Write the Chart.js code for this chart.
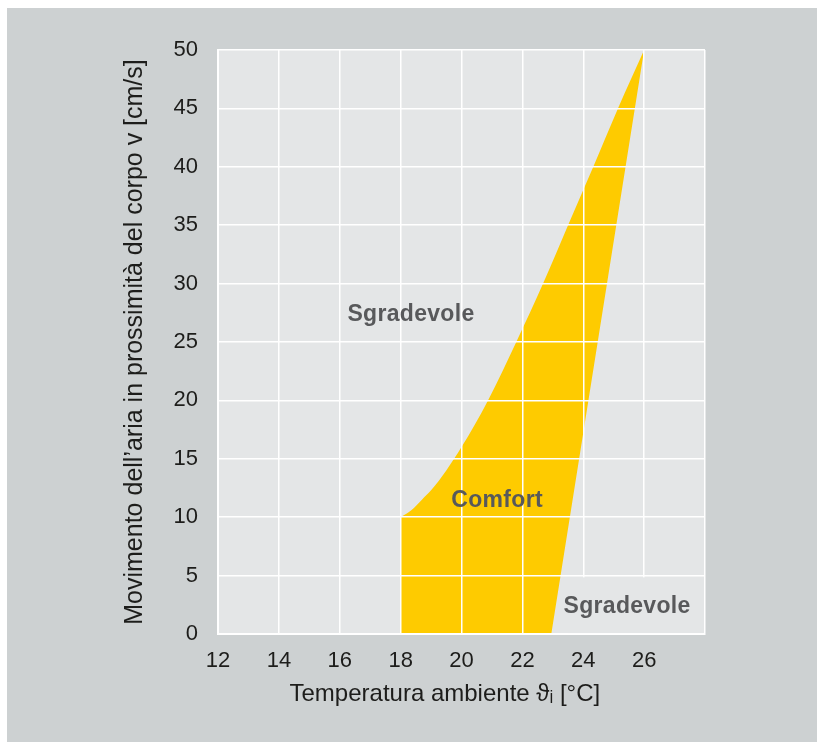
<!DOCTYPE html>
<html lang="it">
<head>
    <meta charset="UTF-8">
    <title>Comfort</title>
    <script src="https://cdn.jsdelivr.net/npm/chart.js@4.4.1/dist/chart.umd.min.js"></script>
    <style>
        body { margin: 0; background: #ffffff; }
        .panel { position: absolute; left: 7px; top: 8px; width: 810px; height: 734px; background: #cdd1d2; }
    </style>
</head>
<body>
<div class="panel">
    <canvas id="myChart" width="810" height="734"></canvas>
</div>
<script>
    // upper edge of the comfort zone (temperature, air speed)
    const upperTemp  = [18, 18.35, 18.7, 19, 19.5, 20, 20.87, 21.8, 22.68, 23.5, 24.33, 25.14, 26];
    const upperSpeed = [10, 10.6, 11.5, 12.3, 14, 16, 20, 25, 30, 35, 40, 45, 50];
    // lower / right edge
    const lowerTemp  = [18, 22.95, 26];
    const lowerSpeed = [0, 0, 50];

    const xTicks = [12, 14, 16, 18, 20, 22, 24, 26];
    const yTicks = [0, 5, 10, 15, 20, 25, 30, 35, 40, 45, 50];

    const zoneLabels = [
        { text: 'Sgradevole', x: 18.34, y: 27.3 },
        { text: 'Comfort', x: 21.17, y: 11.4 },
        { text: 'Sgradevole', x: 25.44, y: 2.3, box: [23.5, 27.93, 0.08, 4.85] }
    ];

    const plotBg = '#e4e6e7';
    const yellow = '#fecb00';
    const fontFam = '"Liberation Sans", Arial, sans-serif';

    const areaBg = {
        id: 'areaBg',
        beforeDraw(chart) {
            const a = chart.chartArea, ctx = chart.ctx;
            ctx.save();
            ctx.fillStyle = plotBg;
            ctx.fillRect(a.left, a.top, a.right - a.left, a.bottom - a.top);
            ctx.restore();
        },
        afterDraw(chart) {
            const ctx = chart.ctx, xs = chart.scales.x, ys = chart.scales.y;
            ctx.save();
            zoneLabels.forEach(l => {
                if (l.box) {
                    const x0 = xs.getPixelForValue(l.box[0]), x1 = xs.getPixelForValue(l.box[1]);
                    const y0 = ys.getPixelForValue(l.box[2]), y1 = ys.getPixelForValue(l.box[3]);
                    ctx.fillStyle = plotBg;
                    ctx.fillRect(x0, y1, x1 - x0, y0 - y1);
                }
                ctx.font = 'bold 23px ' + fontFam;
                ctx.letterSpacing = '0.3px';
                ctx.fillStyle = '#58595b';
                ctx.textAlign = 'center';
                ctx.textBaseline = 'middle';
                ctx.fillText(l.text, xs.getPixelForValue(l.x), ys.getPixelForValue(l.y));
            });
            ctx.restore();
        }
    };

    new Chart('myChart', {
        type: 'line',
        data: {
            datasets: [{
                data: upperTemp.map((t, i) => ({ x: t, y: upperSpeed[i] })),
                borderColor: 'rgba(0,0,0,0)',
                borderWidth: 0,
                backgroundColor: yellow,
                pointRadius: 0,
                cubicInterpolationMode: 'monotone',
                fill: 1
            }, {
                data: lowerTemp.map((t, i) => ({ x: t, y: lowerSpeed[i] })),
                borderColor: 'rgba(0,0,0,0)',
                borderWidth: 0,
                pointRadius: 0,
                fill: false
            }]
        },
        options: {
            responsive: false,
            devicePixelRatio: 1,
            animation: false,
            layout: { padding: { top: 42, right: 112, left: 0, bottom: 0 } },
            plugins: { legend: { display: false }, tooltip: { enabled: false } },
            scales: {
                x: {
                    type: 'linear',
                    min: 12,
                    max: 28,
                    afterFit(s) { s.height = 108; },
                    afterBuildTicks(s) { s.ticks = xTicks.concat([28]).map(v => ({ value: v })); },
                    ticks: {
                        padding: 14,
                        color: '#1d1d1b',
                        font: { family: fontFam, size: 22 },
                        callback: v => xTicks.includes(v) ? String(v) : ''
                    },
                    grid: { color: '#ffffff', lineWidth: 1.5, drawTicks: false, z: 1 },
                    border: { color: '#ffffff', width: 2, z: 1 },
                    title: {
                        display: true,
                        // trailing spaces shift the centred title a little to the left
                        text: 'Temperatura ambiente \u03d1\u1d62 [°C]\u00a0\u00a0\u00a0\u00a0\u00a0',
                        color: '#1d1d1b',
                        font: { family: fontFam, size: 24 },
                        padding: { top: 0, bottom: 33 }
                    }
                },
                y: {
                    min: 0,
                    max: 50,
                    afterFit(s) { s.width = 211; },
                    afterBuildTicks(s) { s.ticks = yTicks.map(v => ({ value: v })); },
                    ticks: {
                        padding: 20,
                        color: '#1d1d1b',
                        font: { family: fontFam, size: 22 }
                    },
                    grid: { color: '#ffffff', lineWidth: 1.5, drawTicks: false, z: 1 },
                    border: { color: '#ffffff', width: 2, z: 1 },
                    title: {
                        display: true,
                        text: 'Movimento dell\u2019aria in prossimità del corpo v [cm/s]',
                        color: '#1d1d1b',
                        font: { family: fontFam, size: 25 },
                        padding: { top: 113, bottom: 0 }
                    }
                }
            }
        },
        plugins: [areaBg]
    });
</script>
</body>
</html>
